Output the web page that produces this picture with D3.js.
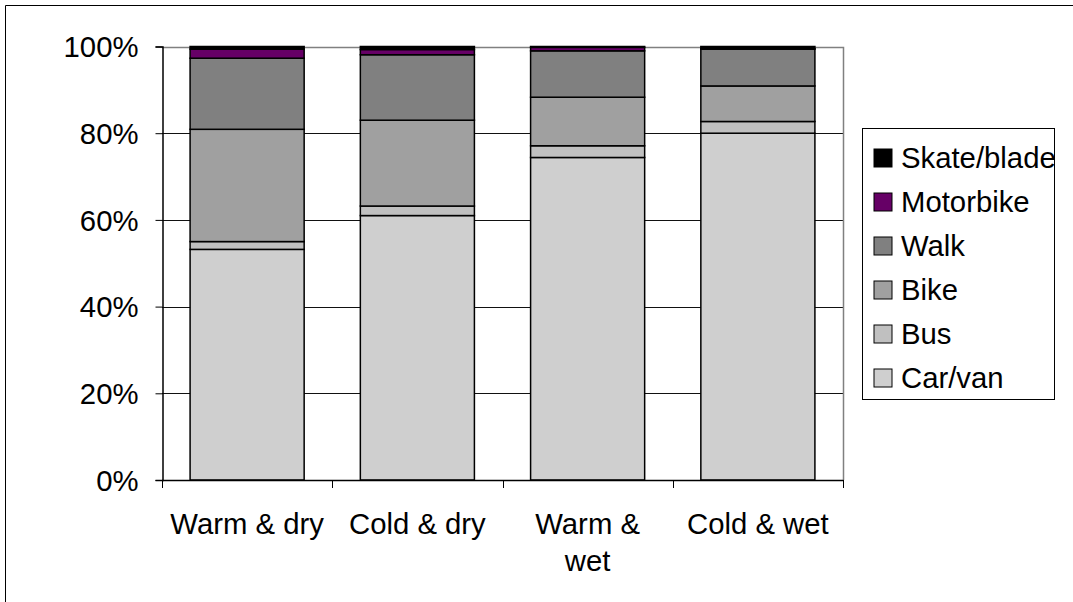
<!DOCTYPE html>
<html>
<head>
<meta charset="utf-8">
<script src="https://cdn.jsdelivr.net/npm/d3@7"></script>
<style>
  html, body { margin: 0; padding: 0; background: #fff; }
  svg { display: block; font-family: Arial, "Liberation Sans", sans-serif; }
</style>
</head>
<body>
<svg id="chart" width="1073" height="602"></svg>
<script>
// Travel mode share by weather condition (percent of trips)
const categories = [["Warm & dry"], ["Cold & dry"], ["Warm &", "wet"], ["Cold & wet"]];
const modes = ["Car/van", "Bus", "Bike", "Walk", "Motorbike", "Skate/blade"];
const carVan     = [53.2, 61.0, 74.4, 80.0];
const bus        = [1.8, 2.2, 2.7, 2.7];
const bike       = [25.9, 19.8, 11.2, 8.2];
const walk       = [16.4, 15.1, 10.7, 8.5];
const motorbike  = [2.1, 1.2, 0.8, 0.1];
const skateBlade = [0.6, 0.7, 0.2, 0.5];
const yTicks = [0, 0.2, 0.4, 0.6, 0.8, 1.0];

const colors = ["#cfcfcf", "#c0c0c0", "#a0a0a0", "#808080", "#660066", "#000000"];
const seriesValues = [carVan, bus, bike, walk, motorbike, skateBlade];
const fontSize = "29.3px";

const rows = categories.map((c, i) => {
  const r = { key: i };
  modes.forEach((m, j) => { r[m] = seriesValues[j][i]; });
  return r;
});

const svg = d3.select("#chart");
const plotLeft = 162, plotRight = 843, plotTop = 46.5, plotBottom = 480;

// outer frame (top and left edges visible)
svg.append("path")
  .attr("d", "M5.5,602 L5.5,5.5 L1073,5.5")
  .attr("fill", "none").attr("stroke", "#000").attr("stroke-width", 1);

const x = d3.scaleBand().domain(d3.range(categories.length)).range([plotLeft, plotRight]).paddingInner(0.33).paddingOuter(0.165);
const y = d3.scaleLinear().domain([0, 1]).range([plotBottom, plotTop]);

// gridlines
svg.append("g").selectAll("line")
  .data(yTicks.filter(t => t > 0 && t < 1)).join("line")
  .attr("x1", plotLeft).attr("x2", plotRight)
  .attr("y1", d => Math.round(y(d)) + 0.5).attr("y2", d => Math.round(y(d)) + 0.5)
  .attr("stroke", "#111").attr("stroke-width", 1);

// plot area top and right edges
svg.append("path")
  .attr("d", `M${plotLeft},${Math.round(y(1)) + 0.5} L${plotRight + 0.5},${Math.round(y(1)) + 0.5} L${plotRight + 0.5},${plotBottom}`)
  .attr("fill", "none").attr("stroke", "#808080").attr("stroke-width", 1.5);

const stack = d3.stack().keys(modes).offset(d3.stackOffsetExpand);
const layers = stack(rows);

svg.append("g").selectAll("g")
  .data(layers).join("g")
  .attr("fill", (d, i) => colors[i])
  .selectAll("rect")
  .data(d => d).join("rect")
  .attr("x", (d, i) => x(i))
  .attr("width", x.bandwidth())
  .attr("y", d => y(d[1]))
  .attr("height", d => Math.max(0, y(d[0]) - y(d[1])))
  .attr("stroke", "#000").attr("stroke-width", 1.5);

// y axis
const yAxis = d3.axisLeft(y).tickValues(yTicks).tickFormat(d3.format(".0%")).tickSize(7).tickPadding(17);
const gy = svg.append("g").attr("transform", `translate(${plotLeft + 0.5},0)`).call(yAxis);
gy.select(".domain").attr("stroke", "#000").attr("stroke-width", 1.5);
gy.selectAll(".tick line").attr("stroke", "#000");
gy.selectAll(".tick text").attr("font-size", fontSize).attr("fill", "#000")
  .attr("font-family", "Arial, 'Liberation Sans', sans-serif").attr("dy", "0.35em");

// x axis with ticks between categories
const gx = svg.append("g");
gx.append("line").attr("x1", plotLeft).attr("x2", plotRight + 0.5)
  .attr("y1", plotBottom + 0.5).attr("y2", plotBottom + 0.5).attr("stroke", "#000").attr("stroke-width", 1.5);
gx.selectAll("line.tk").data(d3.range(categories.length + 1)).join("line").attr("class", "tk")
  .attr("x1", i => Math.round(plotLeft + i * (plotRight - plotLeft) / categories.length) + 0.5)
  .attr("x2", i => Math.round(plotLeft + i * (plotRight - plotLeft) / categories.length) + 0.5)
  .attr("y1", plotBottom).attr("y2", plotBottom + 8).attr("stroke", "#000");
gx.selectAll("text").data(categories).join("text")
  .attr("x", (d, i) => x(i) + x.bandwidth() / 2)
  .attr("y", 534)
  .attr("text-anchor", "middle").attr("font-size", fontSize).attr("fill", "#000")
  .each(function(lines) {
    d3.select(this).selectAll("tspan").data(lines).join("tspan")
      .attr("x", d3.select(this).attr("x"))
      .attr("dy", (d, j) => j === 0 ? 0 : 37)
      .text(d => d);
  });

// legend
const lg = svg.append("g");
lg.append("rect").attr("x", 862.5).attr("y", 128.5).attr("width", 192).attr("height", 271)
  .attr("fill", "#fff").attr("stroke", "#000").attr("stroke-width", 1);
const legendOrder = modes.slice().reverse();
const items = lg.selectAll("g.item").data(legendOrder).join("g").attr("class", "item")
  .attr("transform", (d, i) => `translate(874,${158 + i * 44})`);
items.append("rect").attr("x", 0).attr("y", -9).attr("width", 18).attr("height", 18)
  .attr("fill", d => colors[modes.indexOf(d)]).attr("stroke", "#000").attr("stroke-width", 1);
items.append("text").attr("x", 27).attr("y", 0).attr("dy", "0.35em")
  .attr("font-size", fontSize).attr("fill", "#000").text(d => d);
</script>
</body>
</html>
